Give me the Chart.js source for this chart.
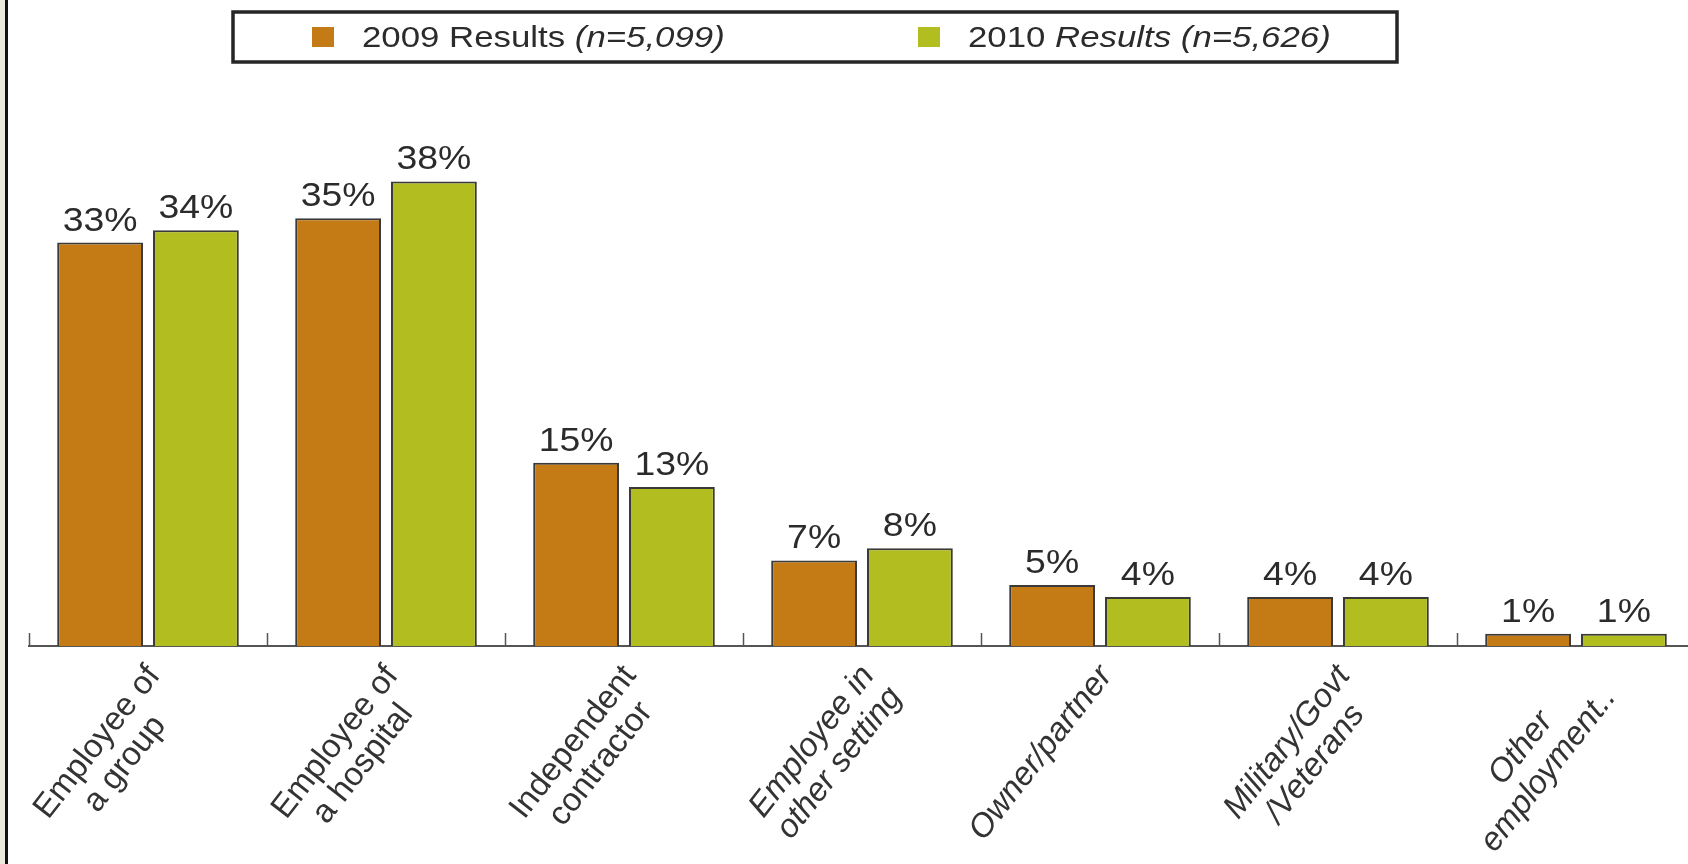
<!DOCTYPE html>
<html>
<head>
<meta charset="utf-8">
<script src="https://cdn.jsdelivr.net/npm/chart.js@4.4.1/dist/chart.umd.min.js"></script>
<style>
  html, body { margin: 0; padding: 0; background: #fff; overflow: hidden; }
  .wrap { position: relative; width: 1696px; height: 864px; }
  .edge { position: absolute; left: 0; top: 0; width: 5px; height: 864px; background: #ebe8dc; }
  .rule { position: absolute; left: 5px; top: 0; width: 3px; height: 864px; background: #111; }
</style>
</head>
<body>
<div class="wrap">
  <canvas id="chart" width="1696" height="864"></canvas>
  <div class="edge"></div>
  <div class="rule"></div>
</div>
<script>
const categories = [
  ['Employee of', 'a group'],
  ['Employee of', 'a hospital'],
  ['Independent', 'contractor'],
  ['Employee in', 'other setting'],
  ['Owner/partner'],
  ['Military/Govt', '/Veterans'],
  ['Other', 'employment..']
]
const italicLabels = [false, false, false, true, true, true, true]
const results2009 = [33, 35, 15, 7, 5, 4, 1]
const results2010 = [34, 38, 13, 8, 4, 4, 1]
// legend text pieces: [text, italic]
const legend2009 = [['2009 Results ', false], ['(n=5,099)', true]]
const legend2010 = [['2010 ', false], ['Results (n=5,626)', true]]

const orange = '#c47a15'
const green = '#b2bd1f'
const font = '"Liberation Sans", Arial, sans-serif'

const stretched = (ctx, text, x, y, sx) => {
  ctx.save()
  ctx.translate(x, y)
  ctx.scale(sx, 1)
  ctx.fillText(text, 0, 0)
  ctx.restore()
}

const drawPieces = (ctx, pieces, x, y, size, sx) => {
  ctx.textAlign = 'left'
  ctx.textBaseline = 'alphabetic'
  pieces.forEach(([text, italic]) => {
    ctx.font = `${italic ? 'italic ' : ''}${size}px ${font}`
    stretched(ctx, text, x, y, sx)
    x += ctx.measureText(text).width * sx
  })
}

const decorations = {
  id: 'decorations',
  afterDraw (chart) {
    const { ctx, chartArea } = chart
    const xScale = chart.scales.x
    const base = chartArea.bottom
    ctx.save()

    // little ticks pointing up at category boundaries
    const step = (chartArea.right - chartArea.left) / categories.length
    ctx.strokeStyle = '#555'
    ctx.lineWidth = 1.5
    for (let i = 0; i <= categories.length; i++) {
      const x = Math.round(chartArea.left + i * step) + 0.5
      ctx.beginPath()
      ctx.moveTo(x, base)
      ctx.lineTo(x, base - 13)
      ctx.stroke()
    }

    // value labels over the bars
    ctx.fillStyle = '#2b2b2b'
    ctx.font = `34px ${font}`
    ctx.textAlign = 'center'
    ctx.textBaseline = 'alphabetic'
    chart.data.datasets.forEach((ds, d) => {
      chart.getDatasetMeta(d).data.forEach((bar, i) => {
        stretched(ctx, `${ds.data[i]}%`, bar.x, bar.y - 12, 1.1)
      })
    })

    // rotated category labels
    ctx.fillStyle = '#333'
    categories.forEach((lines, i) => {
      const cx = xScale.getPixelForValue(i)
      ctx.save()
      ctx.translate(cx - 7, base + 14)
      ctx.rotate(-52 * Math.PI / 180)
      ctx.font = `${italicLabels[i] ? 'italic ' : ''}33px ${font}`
      ctx.textAlign = 'center'
      ctx.textBaseline = 'top'
      const w = Math.max(...lines.map(l => ctx.measureText(l).width))
      lines.forEach((line, j) => ctx.fillText(line, -w / 2, j * 35))
      ctx.restore()
    })

    // legend box
    ctx.strokeStyle = '#262626'
    ctx.lineWidth = 3.5
    ctx.strokeRect(233, 12, 1164, 50)
    ctx.fillStyle = orange
    ctx.fillRect(312, 27, 22, 20)
    ctx.fillStyle = green
    ctx.fillRect(918, 27, 22, 20)
    ctx.fillStyle = '#2b2b2b'
    drawPieces(ctx, legend2009, 362, 47, 29, 1.2)
    drawPieces(ctx, legend2010, 968, 47, 29, 1.2)

    ctx.restore()
  }
}

const chart = new Chart(document.getElementById('chart'), {
  type: 'bar',
  data: {
    labels: categories,
    datasets: [
      { label: '2009 Results (n=5,099)', data: results2009, backgroundColor: orange },
      { label: '2010 Results (n=5,626)', data: results2010, backgroundColor: green }
    ]
  },
  options: {
    responsive: false,
    animation: false,
    layout: { padding: { top: 157, left: 29, right: 1, bottom: 0 } },
    datasets: {
      bar: {
        categoryPercentage: 0.805,
        barPercentage: 0.896,
        borderColor: '#3a3a3a',
        borderWidth: 2
      }
    },
    scales: {
      x: {
        grid: { drawOnChartArea: false, drawTicks: false },
        border: { display: true, color: '#555', width: 2 },
        ticks: { display: false },
        afterFit: (scale) => { scale.height = 218 }
      },
      y: { display: false, min: 0, max: 40 }
    },
    plugins: {
      legend: { display: false },
      tooltip: { enabled: false }
    }
  },
  plugins: [decorations]
})
</script>
</body>
</html>
